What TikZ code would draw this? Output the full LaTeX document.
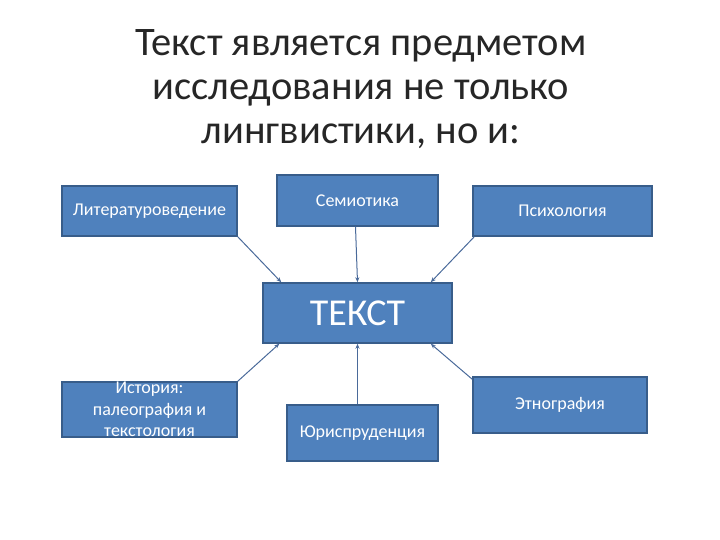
\documentclass[tikz,border=0pt]{standalone}
\usepackage{fontspec}
\setmainfont{Carlito}
\usetikzlibrary{calc,arrows.meta}
\definecolor{boxfill}{HTML}{4F81BD}
\definecolor{boxline}{HTML}{385D8A}
\definecolor{conn}{HTML}{4A6A9A}
\tikzset{
  box/.style={draw=boxline, line width=1.5pt, fill=boxfill, text=white, font=\fontsize{18}{21.5}\selectfont, inner sep=0pt, align=center},
  conline/.style={draw=conn, line width=1pt, -{Stealth[length=5pt,width=4pt]}}
}
\begin{document}
\begin{tikzpicture}[x=1pt,y=-1pt]
\useasboundingbox (0,0) rectangle (720,540);
\node[align=center, font=\fontsize{40.5}{44}\selectfont, text=black!85] (title) at (361,89)
  {Текст является предметом\\исследования не только\\лингвистики, но и:};
\node[box, minimum width=175pt, minimum height=50pt] (lit) at (149.5,211) {Литературоведение};
\node[box, minimum width=161pt, minimum height=51pt] (sem) at (357.5,200.5) {Семиотика};
\node[box, minimum width=179pt, minimum height=50pt] (psy) at (562.5,211) {Психология};
\node[box, minimum width=189pt, minimum height=60pt, font=\fontsize{38}{40}\selectfont] (tekst) at (357.5,313) {ТЕКСТ};
\node[box, minimum width=175pt, minimum height=55pt] (ist) at (149.5,409.5) {История:\\палеография и\\текстология};
\node[box, minimum width=151pt, minimum height=56pt] (jur) at (362.5,433) {Юриспруденция};
\node[box, minimum width=174pt, minimum height=56pt] (eth) at (560,405) {Этнография};
\draw[conline] (lit.south east) -- ($(tekst.north west)+(19,0)$);
\draw[conline] ($(sem.south)+(-2,0)$) -- (tekst.north);
\draw[conline] ($(psy.south west)+(2,0)$) -- ($(tekst.north east)+(-22,0)$);
\draw[conline] (ist.north east) -- ($(tekst.south west)+(17,0)$);
\draw[conline] ($(jur.north)+(-5,0)$) -- ($(tekst.south)+(0,0)$);
\draw[conline] ($(eth.north west)+(0,3)$) -- ($(tekst.south east)+(-22,0)$);
\end{tikzpicture}
\end{document}
